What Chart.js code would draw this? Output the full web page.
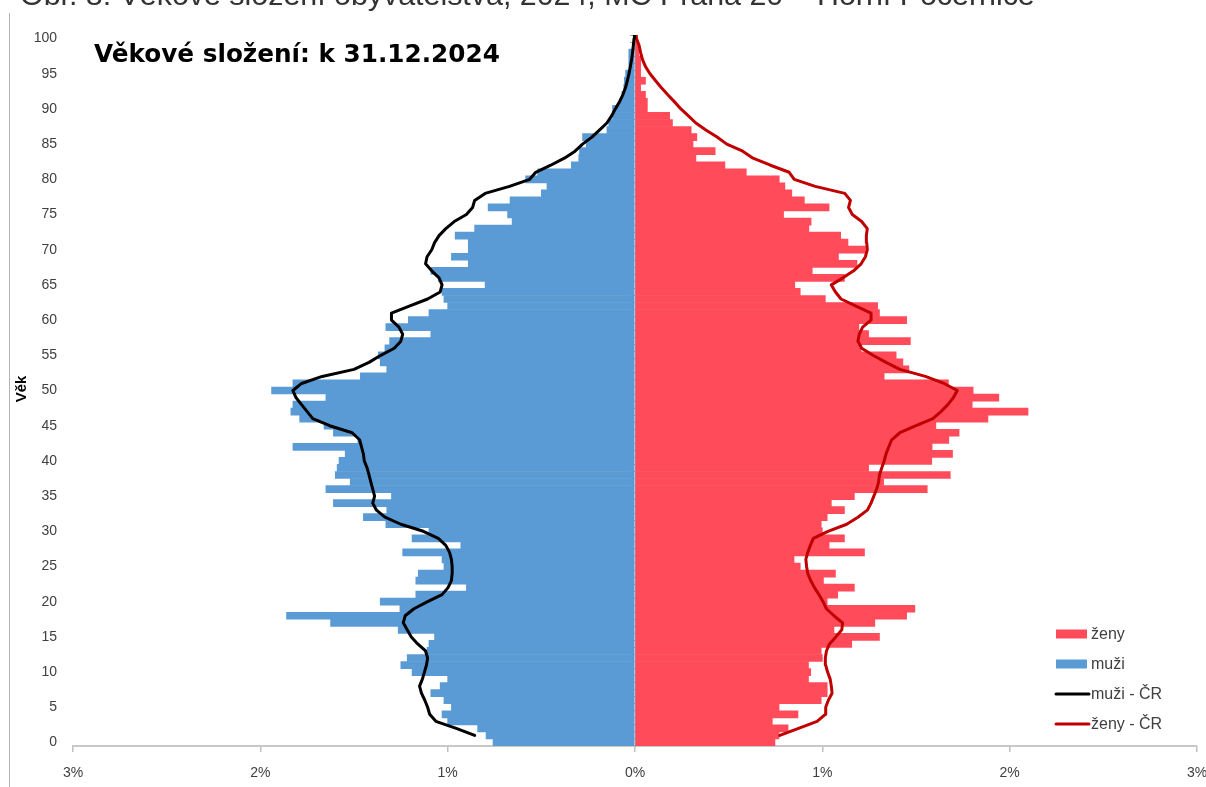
<!DOCTYPE html>
<html><head><meta charset="utf-8">
<script src="https://cdn.jsdelivr.net/npm/chart.js@4"></script>
<style>html,body{margin:0;padding:0;background:#fff;overflow:hidden}#wrap{position:relative;width:1206px;height:787px}</style>
</head><body><div id="wrap"><canvas id="c" width="1206" height="787"></canvas></div>
<script>
const ages = ['0','1','2','3','4','5','6','7','8','9','10','11','12','13','14','15','16','17','18','19','20','21','22','23','24','25','26','27','28','29','30','31','32','33','34','35','36','37','38','39','40','41','42','43','44','45','46','47','48','49','50','51','52','53','54','55','56','57','58','59','60','61','62','63','64','65','66','67','68','69','70','71','72','73','74','75','76','77','78','79','80','81','82','83','84','85','86','87','88','89','90','91','92','93','94','95','96','97','98','99','100'];

// share of each age in % (muži = men, ženy = women), MČ
const men = [0.758,0.795,0.84,1.00,1.03,0.98,1.02,1.09,1.04,1.00,
 1.19,1.25,1.216,1.11,1.10,1.07,1.264,1.625,1.86,1.255,
 1.36,1.17,0.90,1.17,1.157,1.02,1.03,1.24,0.93,1.19,
 1.10,1.33,1.45,1.325,1.61,1.30,1.65,1.52,1.60,1.59,
 1.58,1.547,1.826,1.48,1.61,1.66,1.79,1.837,1.826,1.65,
 1.94,1.826,1.466,1.325,1.36,1.37,1.335,1.31,1.09,1.33,
 1.21,1.10,1.00,1.02,1.03,0.80,1.05,1.09,0.89,0.98,
 0.89,0.89,0.96,0.856,0.656,0.68,0.784,0.667,0.50,0.47,
 0.584,0.52,0.34,0.30,0.296,0.26,0.28,0.15,0.14,0.12,
 0.12,0.08,0.07,0.06,0.057,0.05,0.033,0.033,0.033,0.01,
 0.005];
const women = [0.747,0.769,0.817,0.733,0.87,0.769,0.994,1.026,1.026,0.926,
 0.938,0.926,1.0,0.994,1.157,1.305,1.062,1.28,1.45,1.494,
 1.026,1.082,1.171,1.006,1.07,0.882,0.849,1.225,1.036,1.118,
 1.00,0.994,1.026,1.118,1.048,1.171,1.56,1.327,1.683,1.247,
 1.584,1.695,1.586,1.675,1.73,1.606,1.884,2.098,1.80,1.942,
 1.805,1.673,1.33,1.462,1.43,1.394,1.207,1.47,1.247,1.195,
 1.45,1.305,1.295,1.016,0.882,0.853,1.118,0.946,1.185,1.086,
 1.23,1.137,1.098,0.928,0.94,0.793,1.036,0.904,0.837,0.80,
 0.77,0.594,0.48,0.325,0.428,0.31,0.33,0.30,0.20,0.185,
 0.066,0.066,0.056,0.03,0.056,0.03,0.03,0.03,0.02,0.015,
 0.01];
// Czech Republic reference (ČR)
const menCR = [0.856,0.954,1.063,1.096,1.107,1.122,1.14,1.15,1.135,1.124,
 1.113,1.107,1.118,1.16,1.194,1.216,1.237,1.227,1.18,1.107,
 1.03,0.998,0.98,0.976,0.976,0.98,0.99,1.01,1.05,1.13,
 1.25,1.335,1.38,1.40,1.39,1.40,1.41,1.42,1.43,1.445,
 1.45,1.46,1.47,1.51,1.63,1.72,1.75,1.78,1.81,1.826,
 1.78,1.67,1.50,1.42,1.357,1.285,1.25,1.24,1.26,1.30,
 1.30,1.205,1.107,1.04,1.03,1.046,1.085,1.118,1.11,1.085,
 1.07,1.046,1.01,0.965,0.90,0.867,0.856,0.80,0.67,0.562,
 0.53,0.45,0.377,0.32,0.28,0.23,0.19,0.15,0.125,0.105,
 0.083,0.065,0.051,0.041,0.032,0.025,0.018,0.013,0.009,0.005,
 0.003];
const womenCR = [0.773,0.873,0.972,1.016,1.018,1.032,1.052,1.048,1.042,1.028,
 1.018,1.016,1.022,1.038,1.072,1.104,1.108,1.062,1.022,1.004,
 0.982,0.958,0.938,0.922,0.916,0.912,0.922,0.936,0.952,1.03,
 1.13,1.19,1.24,1.26,1.275,1.29,1.30,1.305,1.317,1.33,
 1.34,1.355,1.37,1.414,1.50,1.59,1.633,1.67,1.70,1.72,
 1.65,1.55,1.414,1.34,1.27,1.21,1.19,1.197,1.215,1.26,
 1.26,1.18,1.10,1.07,1.048,1.11,1.167,1.207,1.23,1.24,
 1.237,1.235,1.24,1.21,1.16,1.14,1.15,1.12,0.962,0.85,
 0.823,0.723,0.63,0.575,0.49,0.438,0.378,0.325,0.285,0.245,
 0.211,0.175,0.141,0.11,0.08,0.056,0.04,0.03,0.022,0.008,
 0.004];

const seriesNames = ['ženy','muži','muži - ČR','ženy - ČR'];
const xTicks = [-3,-2,-1,0,1,2,3];
const titleText = 'Věkové složení: k 31.12.2024';
const captionText = 'Obr. 8: Věkové složení obyvatelstva, 2024, MČ Praha 20 – Horní Počernice';
const axisTitle = 'Věk';

const RED = '#FF4B5A', BLUE = '#5B9BD5', DARKRED = '#C00000', BLACK = '#000000';
const TICKFONT = {family:'"Liberation Sans", Arial, sans-serif', size:14};
const TXT = '#404040';

const overlay = {
  id:'overlay',
  afterDraw(chart){
    const c = chart.ctx;
    c.save();
    // caption above the chart frame (mostly cut off by the page top)
    let cs = 26;
    c.font = cs+'px "Liberation Sans", Arial, sans-serif';
    cs = cs*1015/c.measureText(captionText).width;
    c.font = cs.toFixed(2)+'px "Liberation Sans", Arial, sans-serif';
    c.fillStyle = '#333333'; c.textBaseline = 'alphabetic'; c.textAlign = 'left';
    c.fillText(captionText, 20, 5);
    // left frame line
    c.strokeStyle = '#b4b4b4'; c.lineWidth = 1;
    c.beginPath(); c.moveTo(9.5,13); c.lineTo(9.5,787); c.stroke();
    // title
    let fs = 23;
    c.font = 'bold '+fs+'px "DejaVu Sans", sans-serif';
    const w = c.measureText(titleText).width;
    fs = fs*406/w;
    c.font = 'bold '+fs.toFixed(2)+'px "DejaVu Sans", sans-serif';
    c.fillStyle = '#000'; c.textBaseline = 'alphabetic'; c.textAlign = 'left';
    c.fillText(titleText, 94, 62);
    // axis title
    c.save();
    c.translate(22, 389); c.rotate(-Math.PI/2);
    c.font = 'bold 15px "Liberation Sans", Arial, sans-serif';
    c.textAlign = 'center'; c.textBaseline = 'middle';
    c.fillText(axisTitle, 0, 0);
    c.restore();
    // legend
    const ds = chart.data.datasets;
    const items = [
      {d: ds.find(d=>d.label===seriesNames[0]), y:634},
      {d: ds.find(d=>d.label===seriesNames[1]), y:664},
      {d: ds.find(d=>d.label===seriesNames[2]), y:694},
      {d: ds.find(d=>d.label===seriesNames[3]), y:724}
    ];
    c.font = '16px "Liberation Sans", Arial, sans-serif';
    c.textBaseline = 'middle'; c.textAlign = 'left';
    for (const it of items){
      if (it.d.type === 'bar'){
        c.fillStyle = it.d.backgroundColor;
        c.fillRect(1056, it.y-4.5, 31, 9);
      } else {
        c.strokeStyle = it.d.borderColor; c.lineWidth = 3; c.lineCap = 'round';
        c.beginPath(); c.moveTo(1056, it.y); c.lineTo(1089, it.y); c.stroke();
      }
      c.fillStyle = TXT;
      c.fillText(it.d.label, 1091, it.y+1);
    }
    c.restore();
  }
};

new Chart(document.getElementById('c'), {
  data: {
    labels: ages,
    datasets: [
      {type:'line', label:seriesNames[2], data: ages.map((a,i)=>({x:-menCR[i], y:Number(a)})),
       indexAxis:'y', xAxisID:'x', yAxisID:'yl', borderColor:BLACK, borderWidth:3, pointRadius:0, tension:0, borderJoinStyle:'round', borderCapStyle:'round', fill:false},
      {type:'line', label:seriesNames[3], data: ages.map((a,i)=>({x:womenCR[i], y:Number(a)})),
       indexAxis:'y', xAxisID:'x', yAxisID:'yl', borderColor:DARKRED, borderWidth:3, pointRadius:0, tension:0, borderJoinStyle:'round', borderCapStyle:'round', fill:false},
      {type:'bar', label:seriesNames[0], data: women, indexAxis:'y', xAxisID:'x', yAxisID:'y',
       backgroundColor:RED, borderWidth:0, grouped:false, barPercentage:1, categoryPercentage:1},
      {type:'bar', label:seriesNames[1], data: men.map(v=>-v), indexAxis:'y', xAxisID:'x', yAxisID:'y',
       backgroundColor:BLUE, borderWidth:0, grouped:false, barPercentage:1, categoryPercentage:1}
    ]
  },
  options: {
    indexAxis:'y', responsive:false, animation:false, devicePixelRatio:1,
    layout:{padding:{left:0, right:9, top:35, bottom:0}},
    plugins:{legend:{display:false}, tooltip:{enabled:false}, title:{display:false}},
    scales:{
      x:{type:'linear', position:'bottom', min:-3, max:3,
         afterBuildTicks(s){ s.ticks = xTicks.map(v=>({value:v})); },
         ticks:{callback:v=>Math.abs(v)+'%', color:TXT, font:TICKFONT, padding:13, maxRotation:0},
         grid:{drawOnChartArea:false, drawTicks:true, tickLength:6, color:'#bfbfbf', lineWidth:1.5},
         border:{color:'#c8c8c8', width:2},
         afterFit(s){ s.height = 41; s.paddingLeft = 0; s.paddingRight = 0; }},
      y:{type:'category', position:'left', reverse:true, offset:true,
         grid:{display:false, drawTicks:false}, border:{display:false},
         ticks:{autoSkip:false, padding:16, color:TXT, font:TICKFONT,
           callback(v,i){ return i%5===0 ? this.getLabelForValue(v) : null; }},
         afterFit(s){ s.width = 73; }},
      yc:{type:'category', position:{x:0}, reverse:true, offset:true, z:1,
         grid:{offset:true, drawOnChartArea:false, drawTicks:true, tickLength:5, color:'#a6a6a6', lineWidth:1},
         border:{display:true, color:'#a6a6a6', width:1},
         ticks:{display:false}},
      yl:{type:'linear', min:-1.5, max:99.5, display:false}
    }
  },
  plugins:[overlay]
});
</script></body></html>
